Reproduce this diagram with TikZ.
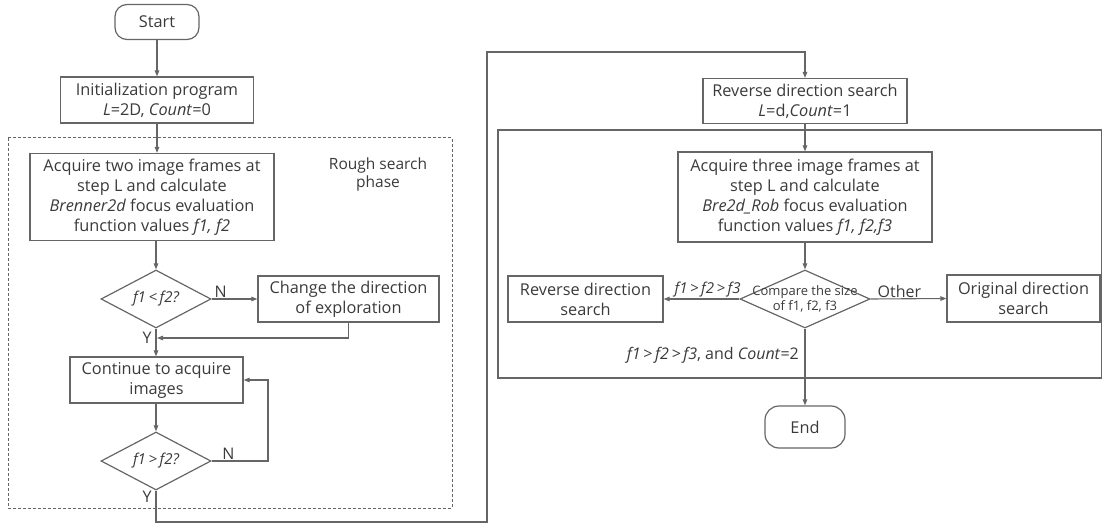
\documentclass[tikz,border=0pt]{standalone}
\usepackage{fontspec}
\setmainfont{Open Sans}
\usetikzlibrary{shapes.geometric,arrows.meta}
\definecolor{ln}{HTML}{666666}
\definecolor{tx}{HTML}{3A3A3A}
\tikzset{
  base/.style={draw=ln, line width=1.2pt, text=tx, font=\fontsize{16.3}{20}\selectfont, align=center, inner sep=0pt},
  proc/.style={base, rectangle},
  term/.style={base, rounded corners=12pt},
  dec/.style={base, diamond, aspect=1.9},
  arr/.style={draw=ln, line width=1.1pt, -{Triangle[length=6pt,width=4.5pt]}},
  ln/.style={draw=ln, line width=1.1pt},
  lbl/.style={text=tx, font=\fontsize{16}{20}\selectfont, inner sep=1pt},
}
\begin{document}
\begin{tikzpicture}[x=1pt,y=-1pt]
\useasboundingbox (0,0) rectangle (1103,524);
% groups
\draw[draw=ln, line width=1pt, dash pattern=on 3pt off 2pt] (8,138) rectangle (452,508);
\draw[ln, line width=1.3pt] (498,130) rectangle (1101.5,378);
\node[lbl, align=center, font=\fontsize{15.5}{18}\selectfont] (rough) at (378,174) {Rough search\\phase};
% left column
\node[term, minimum width=84pt, minimum height=35pt] (start) at (157,22) {Start};
\node[proc, minimum width=193pt, minimum height=46pt] (init) at (157,100) {Initialization program\\\textit{L}=2D, \textit{Count}=0};
\node[proc, minimum width=244pt, minimum height=87pt] (acq1) at (152,197) {Acquire two image frames at\\step L and calculate\\\textit{Brenner2d} focus evaluation\\function values \textit{f1, f2}};
\node[dec, minimum width=110pt, minimum height=58pt] (d1) at (156,299) {};
\node[lbl, font=\fontsize{15}{18}\selectfont\itshape] at (d1.center) {f1\,<\,f2?};
\node[proc, minimum width=181pt, minimum height=46pt] (chg) at (348.5,299) {Change the direction\\of exploration};
\node[proc, minimum width=173pt, minimum height=46pt] (cont) at (156.5,380) {Continue to acquire\\images};
\node[dec, minimum width=110pt, minimum height=58pt] (d2) at (156,461) {};
\node[lbl, font=\fontsize{15}{18}\selectfont\itshape] at (d2.center) {f1\,>\,f2?};
% right column
\node[proc, minimum width=204pt, minimum height=45pt] (rev) at (805,101) {Reverse direction search\\\textit{L}=d,\textit{Count}=1};
\node[proc, minimum width=254pt, minimum height=90pt] (acq3) at (805,197) {Acquire three image frames at\\step L and calculate\\\textit{Bre2d\_Rob} focus evaluation\\function values \textit{f1, f2,f3}};
\node[dec, minimum width=130pt, minimum height=58pt, aspect=2.2] (cmp) at (805,299) {};
\node[lbl, align=center, font=\fontsize{13}{15.5}\selectfont] at (cmp.center) {Compare the size\\of f1, f2, f3};
\node[proc, minimum width=155pt, minimum height=46pt] (revs) at (585.5,299) {Reverse direction\\search};
\node[proc, minimum width=153pt, minimum height=47pt] (orig) at (1023.5,298.5) {Original direction\\search};
\node[term, minimum width=80pt, minimum height=42pt, rounded corners=14pt] (end) at (805,427) {End};
% connectors
\draw[arr] (start) -- (init);
\draw[arr] (init) -- (acq1.north -| init.south);
\draw[arr] (acq1.south -| d1.north) -- (d1.north);
\draw[arr] (d1.east) -- node[lbl, pos=0.2, above] {N} (chg.west);
\coordinate (j1) at (157,338);
\draw[arr] (chg.south) |- (j1);
\node[lbl] at (147,338) {Y};
\draw[arr] (d1.south) -- (cont.north -| d1.south);
\draw[arr] (cont.south -| d2.north) -- (d2.north);
\coordinate (n2) at (268,461);
\draw[arr] (d2.east) -- node[lbl, pos=0.3, above] {N} (n2) |- (cont.east);
\node[lbl] at (147,497) {Y};
\coordinate (b1) at (156,522);
\coordinate (b2) at (487,522);
\coordinate (b3) at (487,52);
\draw[arr] (d2.south) -- (b1) -- (b2) -- (b3) -| (rev.north);
\draw[arr] (rev) -- (acq3);
\draw[arr] (acq3) -- (cmp);
\draw[arr] (cmp.west) -- node[lbl, pos=0.42, above, font=\fontsize{15}{18}\selectfont\itshape] {f1\,>\,f2\,>\,f3} (revs.east);
\draw[arr] (cmp.east) -- node[lbl, pos=0.38, above] {Other} (orig.west);
\draw[arr] (cmp.south) -- (end.north);
\node[lbl, anchor=east] at (800,355) {\textit{f1\,>\,f2\,>\,f3}, and \textit{Count}=2};
\end{tikzpicture}
\end{document}
